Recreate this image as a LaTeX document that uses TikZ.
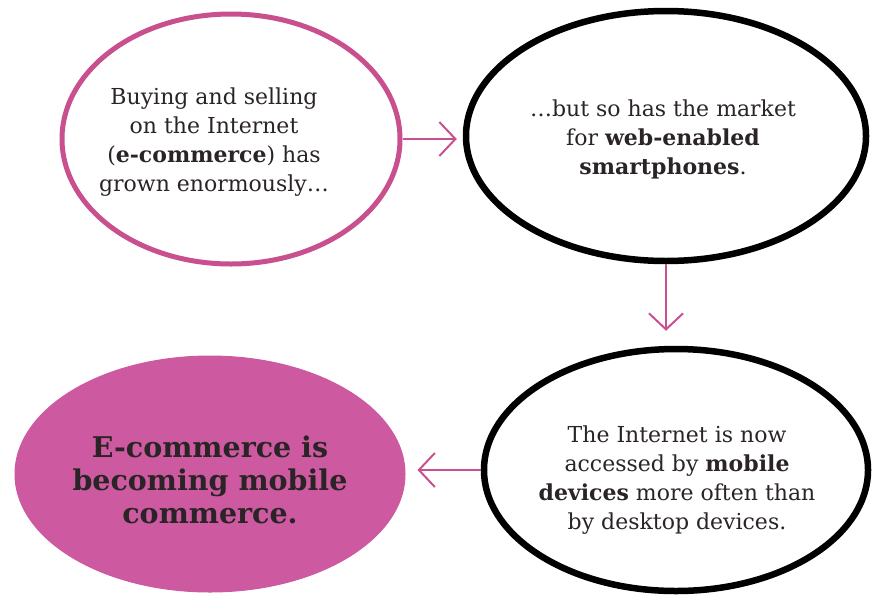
\documentclass[tikz,border=0pt]{standalone}
\usepackage{fontspec}
\setmainfont{DejaVu Serif}
\usetikzlibrary{shapes.geometric,arrows.meta}
\definecolor{pinkline}{HTML}{C9508F}
\definecolor{pinkfill}{HTML}{CD5AA0}
\definecolor{txt}{HTML}{2A2426}
\tikzset{
  bubble/.style={ellipse, inner sep=0pt},
  pinkbubble/.style={bubble, draw=pinkline, line width=5pt},
  blackbubble/.style={bubble, draw=black, line width=6.5pt},
  finalbubble/.style={bubble, fill=pinkfill, draw=pinkfill, line width=1pt},
  bubbletext/.style={align=center, text=txt, inner sep=0pt, font=\fontsize{22}{29}\selectfont},
  finaltext/.style={align=center, text=txt, inner sep=0pt, font=\bfseries\fontsize{28.5}{33}\selectfont},
  arr/.style={draw=pinkline, line width=2pt, -{Straight Barb[length=16pt,width=34pt,line width=2pt]}}
}
\begin{document}
\begin{tikzpicture}[x=1pt,y=-1pt]
\useasboundingbox (0,0) rectangle (874,600);
\node[pinkbubble, minimum width=338pt, minimum height=250pt] (e1) at (231,139) {};
\node[bubbletext] (t1) at (214,142)
  {Buying and selling\\on the Internet\\(\textbf{e-commerce}) has\\grown enormously\ldots};
\node[blackbubble, minimum width=400pt, minimum height=250pt] (e2) at (666,136) {};
\node[bubbletext] (t2) at (663,139)
  {\ldots but so has the market\\for \textbf{web-enabled}\\\textbf{smartphones}.};
\node[blackbubble, minimum width=384pt, minimum height=242pt] (e3) at (676,470) {};
\node[bubbletext] (t3) at (677,480)
  {The Internet is now\\accessed by \textbf{mobile}\\\textbf{devices} more often than\\by desktop devices.};
\node[finalbubble, minimum width=390pt, minimum height=236pt] (e4) at (210,474) {};
\node[finaltext] (t4) at (210,480) {E-commerce is\\becoming mobile\\commerce.};
\draw[arr, shorten >=6pt] (e1.east) -- (e1.east -| e2.west);
\draw[arr, shorten >=15pt] (e2.south) -- (e2.south |- e3.north);
\draw[arr, shorten >=12pt] (e3.west) -- (e3.west -| e4.east);
\end{tikzpicture}
\end{document}
